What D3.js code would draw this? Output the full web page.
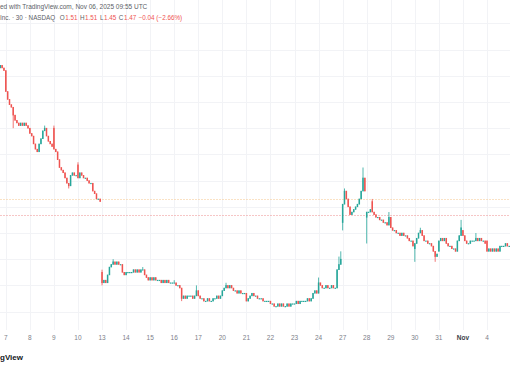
<!DOCTYPE html>
<html>
<head>
<meta charset="utf-8">
<script src="https://cdn.jsdelivr.net/npm/d3@7/dist/d3.min.js"></script>
<style>
  html, body { margin: 0; padding: 0; background: #ffffff; }
  svg { display: block; }
  text { font-family: "Liberation Sans", Arial, sans-serif; }
</style>
</head>
<body>
<svg id="chart" width="510" height="369"></svg>
<script>
// ---------------- DATA ----------------
// x-axis day labels (first 30-min bar of each session)
const dayLabels = ["7","8","9","10","13","14","15","16","17","20","21","22","23","24","27","28","29","30","31","Nov","4"];
const boldLabels = ["Nov"];

// last three 30-min closes of the previous session (Oct 6), partially visible
const leadCloses = [2.14, 2.13, 2.12];
const leadOpen = 2.13;

// 13 thirty-minute closes per session, one row per day label
const sessionCloses = [
  [2.04, 2.01, 1.99, 1.98, 1.95, 1.93, 1.92, 1.91, 1.92, 1.91, 1.92, 1.91, 1.90], // 7
  [1.88, 1.87, 1.84, 1.82, 1.81, 1.84, 1.86, 1.89, 1.90, 1.87, 1.85, 1.84, 1.83], // 8
  [1.82, 1.81, 1.78, 1.75, 1.74, 1.73, 1.71, 1.69, 1.68, 1.72, 1.73, 1.72, 1.72], // 9
  [1.71, 1.73, 1.72, 1.71, 1.71, 1.70, 1.69, 1.69, 1.66, 1.65, 1.63, 1.63, 1.62], // 10
  [1.31, 1.32, 1.31, 1.34, 1.37, 1.38, 1.39, 1.38, 1.39, 1.38, 1.38, 1.35, 1.34], // 13
  [1.35, 1.35, 1.35, 1.35, 1.36, 1.35, 1.36, 1.35, 1.36, 1.36, 1.34, 1.33, 1.32], // 14
  [1.33, 1.32, 1.33, 1.32, 1.32, 1.32, 1.31, 1.32, 1.31, 1.32, 1.31, 1.31, 1.31], // 15
  [1.31, 1.30, 1.30, 1.29, 1.25, 1.26, 1.25, 1.26, 1.26, 1.26, 1.25, 1.26, 1.28], // 16
  [1.26, 1.25, 1.25, 1.24, 1.24, 1.25, 1.24, 1.24, 1.25, 1.25, 1.26, 1.25, 1.26], // 17
  [1.28, 1.29, 1.30, 1.29, 1.30, 1.29, 1.28, 1.28, 1.27, 1.28, 1.27, 1.27, 1.27], // 20
  [1.24, 1.25, 1.26, 1.27, 1.26, 1.26, 1.25, 1.25, 1.25, 1.24, 1.24, 1.24, 1.24], // 21
  [1.23, 1.23, 1.22, 1.22, 1.23, 1.22, 1.23, 1.22, 1.22, 1.23, 1.22, 1.23, 1.23], // 22
  [1.23, 1.24, 1.23, 1.24, 1.24, 1.24, 1.24, 1.25, 1.24, 1.25, 1.27, 1.28, 1.27], // 23
  [1.31, 1.30, 1.29, 1.29, 1.30, 1.29, 1.29, 1.30, 1.29, 1.29, 1.36, 1.38, 1.40], // 24
  [1.61, 1.66, 1.63, 1.60, 1.57, 1.58, 1.59, 1.60, 1.61, 1.63, 1.66, 1.71, 1.66], // 27
  [1.58, 1.58, 1.59, 1.58, 1.57, 1.56, 1.56, 1.55, 1.55, 1.54, 1.54, 1.53, 1.56], // 28
  [1.52, 1.51, 1.51, 1.50, 1.50, 1.49, 1.50, 1.49, 1.49, 1.48, 1.47, 1.47, 1.45], // 29
  [1.46, 1.48, 1.50, 1.51, 1.49, 1.47, 1.47, 1.46, 1.46, 1.45, 1.43, 1.41, 1.42], // 30
  [1.47, 1.48, 1.47, 1.48, 1.46, 1.45, 1.45, 1.44, 1.44, 1.43, 1.47, 1.49, 1.52], // 31
  [1.49, 1.47, 1.46, 1.46, 1.47, 1.47, 1.47, 1.48, 1.47, 1.48, 1.47, 1.47, 1.46], // Nov 3
  [1.43, 1.44, 1.43, 1.44, 1.43, 1.44, 1.43, 1.45, 1.45, 1.45, 1.46, 1.45, 1.45]  // 4
];

// opens that differ from the previous close (session gaps): [day, bar, open]
const gapOpens = [[2,0,1.90],[3,0,1.76],[4,0,1.35],[13,0,1.27],[14,0,1.54],[15,0,1.56],[15,3,1.62],[17,0,1.44],[18,0,1.43],[19,0,1.51],[20,0,1.47]];
// visible upper wicks: [day, bar, high]
const wickHighs = [[1,8,1.91],[2,0,1.91],[3,0,1.77],[4,0,1.36],[4,6,1.40],[5,9,1.37],[7,0,1.32],[7,12,1.30],[9,2,1.31],[13,0,1.33],[13,11,1.41],[13,12,1.43],[14,1,1.67],[14,11,1.75],[15,3,1.63],[15,12,1.58],[17,3,1.52],[18,12,1.55],[19,7,1.50]];
// visible lower wicks: [day, bar, low]
const wickLows = [[0,4,1.90],[2,8,1.67],[4,0,1.30],[7,4,1.24],[14,0,1.51],[15,0,1.46],[17,0,1.39],[17,11,1.39]];

// horizontal price levels drawn as dotted lines
const levelPrices = [1.63, 1.57];
const gridPrices = [1.2, 1.3, 1.4, 1.5, 1.6, 1.7, 1.8, 1.9, 2.0, 2.1, 2.2, 2.3];

// header texts
const headerLine1 = "ed with TradingView.com, Nov 06, 2025 09:55 UTC";
const headerSymbol = ["Inc.", "·", "30", "·", "NASDAQ"];
const ohlcLabels = ["O", "H", "L", "C"];
const ohlcValues = ["1.51", "1.51", "1.45", "1.47"];
const changeText = "−0.04 (−2.66%)";
const logoText = "gView";

// ---------------- BUILD BARS ----------------
const barsPerDay = 13;
const bars = [];
leadCloses.forEach((c, k) => {
  const o = k === 0 ? leadOpen : leadCloses[k - 1];
  bars.push({ o, c, h: Math.max(o, c), l: Math.min(o, c) });
});
const key = (d, k) => d + "-" + k;
const openMap = new Map(gapOpens.map(g => [key(g[0], g[1]), g[2]]));
const highMap = new Map(wickHighs.map(g => [key(g[0], g[1]), g[2]]));
const lowMap = new Map(wickLows.map(g => [key(g[0], g[1]), g[2]]));
const dayStartIndex = [];
sessionCloses.forEach((day, d) => {
  day.forEach((c, k) => {
    if (k === 0) dayStartIndex.push(bars.length);
    const prev = bars[bars.length - 1].c;
    const kk = key(d, k);
    const o = openMap.has(kk) ? openMap.get(kk) : prev;
    const h = highMap.has(kk) ? highMap.get(kk) : Math.max(o, c);
    const l = lowMap.has(kk) ? lowMap.get(kk) : Math.min(o, c);
    bars.push({ o, c, h, l });
  });
});

// ---------------- LAYOUT ----------------
const W = 510, H = 369;
const barStep = 24.06 / barsPerDay;
const firstBarX = 0.25;
const plotBottom = 330;
const up = "#26a69a", down = "#ef5350";

const svg = d3.select("#chart");
svg.append("rect").attr("width", W).attr("height", H).attr("fill", "#ffffff");

const x = d3.scaleLinear()
  .domain([0, bars.length - 1])
  .range([firstBarX, firstBarX + (bars.length - 1) * barStep]);
const y = d3.scaleLinear().domain([1.2, 2.2]).range([311.6, 49.6]);

// grid
const grid = svg.append("g");
grid.selectAll("line.h").data(gridPrices).join("line")
  .attr("x1", 0).attr("x2", W)
  .attr("y1", d => Math.round(y(d)) + 0.5).attr("y2", d => Math.round(y(d)) + 0.5)
  .attr("stroke", "#f2f3f6").attr("stroke-width", 1);
grid.selectAll("line.v").data(dayStartIndex).join("line")
  .attr("x1", d => Math.round(x(d)) + 0.5).attr("x2", d => Math.round(x(d)) + 0.5)
  .attr("y1", 0).attr("y2", plotBottom)
  .attr("stroke", "#f2f3f6").attr("stroke-width", 1);

// price level lines
svg.append("g").selectAll("line").data(levelPrices).join("line")
  .attr("x1", 0).attr("x2", W)
  .attr("y1", d => Math.round(y(d)) + 0.5).attr("y2", d => Math.round(y(d)) + 0.5)
  .attr("stroke", (d, i) => i === 0 ? "#f7cf9f" : "#f0a0a0")
  .attr("stroke-width", 1)
  .attr("stroke-opacity", 0.6)
  .attr("stroke-dasharray", "2,1");

// candles
const cg = svg.append("g");
const bodyW = barStep * 0.8;
cg.selectAll("line.wick").data(bars).join("line")
  .attr("x1", (d, i) => x(i)).attr("x2", (d, i) => x(i))
  .attr("y1", d => y(d.h)).attr("y2", d => y(d.l))
  .attr("stroke", d => d.c >= d.o ? up : down)
  .attr("stroke-width", 0.8);
cg.selectAll("rect.body").data(bars).join("rect")
  .attr("x", (d, i) => x(i) - bodyW / 2)
  .attr("width", bodyW)
  .attr("y", d => Math.min(y(d.o), y(d.c)) - 0.3)
  .attr("height", d => Math.max(1.2, Math.abs(y(d.o) - y(d.c)) + 0.6))
  .attr("fill", d => d.c >= d.o ? up : down);

// x-axis labels
svg.append("g").selectAll("text").data(dayLabels).join("text")
  .attr("x", (d, i) => x(dayStartIndex[i]))
  .attr("y", 340)
  .attr("text-anchor", "middle")
  .attr("font-size", 6.5)
  .attr("font-weight", d => boldLabels.includes(d) ? "bold" : "normal")
  .attr("fill", d => boldLabels.includes(d) ? "#3a3d46" : "#7d808a")
  .text(d => d);

// header
svg.append("text").attr("x", 0).attr("y", 8.5).attr("font-size", 6.5)
  .attr("fill", "#5b5e66").text(headerLine1);

const h2 = svg.append("text").attr("x", 0).attr("y", 19.5).attr("font-size", 6.3);
headerSymbol.forEach((t, i) => h2.append("tspan").attr("dx", i === 0 ? 0 : 1.8).attr("fill", "#5b5e66").text(t));
ohlcLabels.forEach((t, i) => {
  h2.append("tspan").attr("dx", i === 0 ? 4.5 : 2.5).attr("fill", "#5b5e66").text(t);
  h2.append("tspan").attr("dx", 0.6).attr("fill", "#ef5350").text(ohlcValues[i]);
});
h2.append("tspan").attr("dx", 2.5).attr("fill", "#ef5350").text(changeText);

// logo fragment
svg.append("text").attr("x", 0).attr("y", 360).attr("font-size", 8)
  .attr("font-weight", "bold").attr("fill", "#131722").text(logoText);
</script>
</body>
</html>
